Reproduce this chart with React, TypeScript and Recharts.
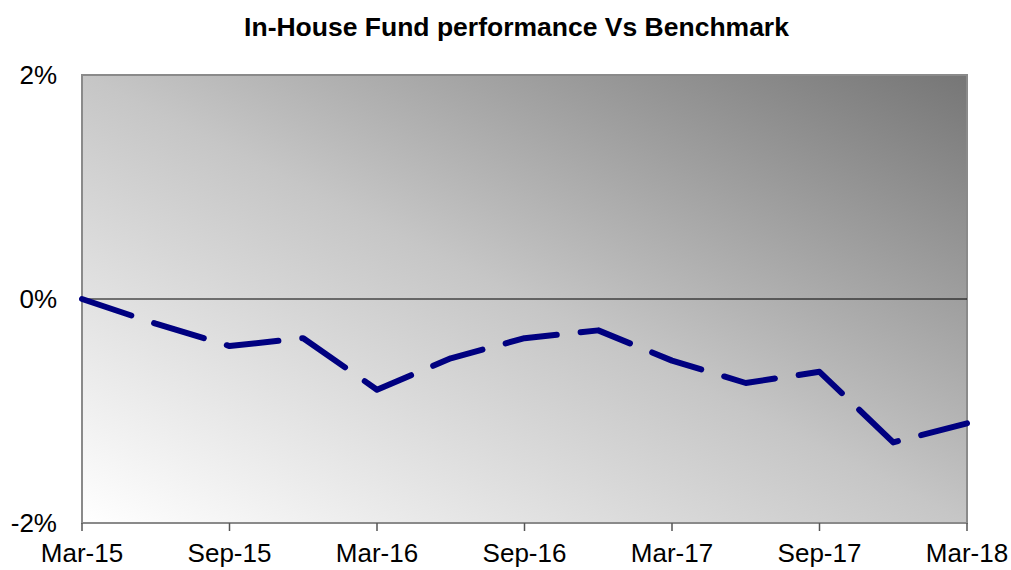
import React from "react";
import {
  LineChart,
  Line,
  XAxis,
  YAxis,
  ReferenceArea,
  ReferenceLine,
} from "recharts";

const quarters = [
  "Mar-15", "Jun-15", "Sep-15", "Dec-15",
  "Mar-16", "Jun-16", "Sep-16", "Dec-16",
  "Mar-17", "Jun-17", "Sep-17", "Dec-17",
  "Mar-18",
];

const relativePerformance = [
  0, -0.22, -0.42, -0.35,
  -0.81, -0.53, -0.35, -0.28,
  -0.55, -0.75, -0.65, -1.28,
  -1.11,
];

const xTickIndexes = [0, 2, 4, 6, 8, 10, 12];
const yTicks = [-2, 0, 2];

const title = "In-House Fund performance Vs Benchmark";

const data = quarters.map((q, i) => ({
  i,
  label: q,
  value: relativePerformance[i],
}));

const FONT = "'Liberation Sans', Arial, Helvetica, sans-serif";

export default function App() {
  return (
    <div
      style={{
        position: "absolute",
        left: 0,
        top: 0,
        width: 1011,
        height: 570,
        background: "#ffffff",
        fontFamily: FONT,
      }}
    >
      <div
        style={{
          position: "absolute",
          left: 0,
          width: 1033,
          top: 10,
          textAlign: "center",
          fontWeight: "bold",
          fontSize: 26.5,
          lineHeight: "34px",
          color: "#000",
          fontFamily: FONT,
        }}
      >
        {title}
      </div>
      <LineChart
        width={1011}
        height={570}
        data={data}
        margin={{ top: 75, right: 44, bottom: 0, left: 0 }}
      >
        <defs>
          <linearGradient id="plotBg" x1="0" y1="1" x2="1" y2="0">
            <stop offset="0%" stopColor="#ffffff" />
            <stop offset="50%" stopColor="#c6c6c6" />
            <stop offset="100%" stopColor="#767676" />
          </linearGradient>
        </defs>
        <XAxis
          dataKey="i"
          type="number"
          domain={[0, 12]}
          ticks={xTickIndexes}
          tickFormatter={(v: number) => quarters[v]}
          height={47}
          axisLine={false}
          tickLine={{ stroke: "#555", strokeWidth: 1.5 }}
          tickSize={8}
          tickMargin={13}
          tick={{ fill: "#000", fontSize: 26, fontFamily: FONT }}
          interval={0}
        />
        <YAxis
          type="number"
          domain={[-2, 2]}
          ticks={yTicks}
          tickFormatter={(v: number) => `${v}%`}
          width={82}
          axisLine={false}
          tickLine={false}
          tickSize={0}
          tickMargin={25}
          tick={{ fill: "#000", fontSize: 26, fontFamily: FONT }}
          interval={0}
        />
        <ReferenceArea
          x1={0}
          x2={12}
          y1={-2}
          y2={2}
          fill="url(#plotBg)"
          fillOpacity={1}
          stroke="#8a8a8a"
          strokeWidth={2}
          ifOverflow="visible"
        />
        <ReferenceLine y={0} stroke="#000" strokeWidth={1} />
        <Line
          type="linear"
          dataKey="value"
          stroke="#000080"
          strokeWidth={6}
          strokeDasharray="52 24"
          strokeLinecap="round"
          strokeLinejoin="round"
          dot={false}
          activeDot={false}
          isAnimationActive={false}
        />
      </LineChart>
    </div>
  );
}
